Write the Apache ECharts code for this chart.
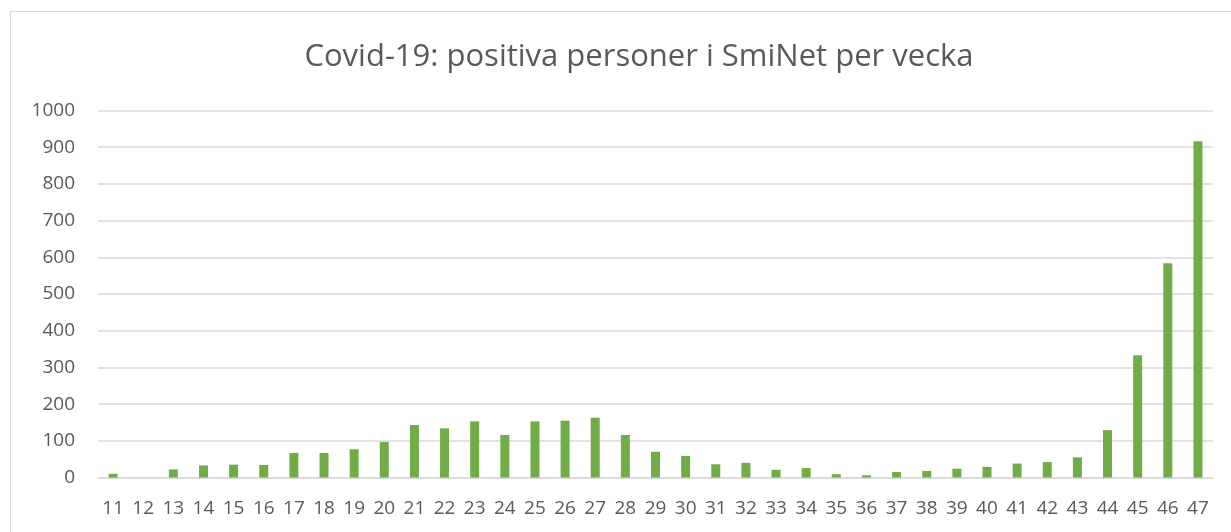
<!DOCTYPE html>
<html>
<head>
<meta charset="utf-8">
<script src="https://cdn.jsdelivr.net/npm/echarts@6/dist/echarts.min.js"></script>
<style>
html, body { margin: 0; padding: 0; background: #fff; overflow: hidden; width: 1231px; height: 532px; }
#box { position: absolute; left: 10px; top: 11px; width: 1258px; height: 540px; border: 1px solid #d9d9d9; box-sizing: border-box; }
#chart { width: 100%; height: 100%; }
</style>
</head>
<body>
<div id="box"><div id="chart"></div></div>
<script>
//veckor och antal positiva
var veckor = ['11','12','13','14','15','16','17','18','19','20','21','22','23','24','25','26','27','28','29',
    '30','31','32','33','34','35','36','37','38','39','40','41','42','43','44','45','46','47'];
var positiva = [10, 0, 22, 33, 35, 34, 67, 67, 77, 97, 143, 134, 153, 116, 153, 155, 163, 116, 70,
    59, 36, 40, 21, 26, 9, 6, 15, 18, 24, 29, 38, 42, 55, 129, 333, 584, 916];
var titel = 'Covid-19: positiva personer i SmiNet per vecka';

var chart = echarts.init(document.getElementById("chart"));
option = {
    animation: false,
    title: {
        text: titel,
        left: 'center',
        top: 25,
        textStyle: {
            color: '#595959',
            fontSize: 31,
            fontWeight: 'normal',
            fontFamily: 'Open Sans'
        }
    },
    grid: {
        left: 87,
        top: 98.5,
        width: 1115,
        height: 367
    },
    xAxis: {
        type: 'category',
        data: veckor,
        axisLine: { lineStyle: { color: '#d9d9d9', width: 1.5 } },
        axisTick: { show: false },
        axisLabel: { color: '#595959', fontSize: 19, fontFamily: 'Open Sans', margin: 22, interval: 0 }
    },
    yAxis: {
        type: 'value',
        min: 0,
        max: 1000,
        interval: 100,
        axisLine: { show: false },
        axisTick: { show: false },
        axisLabel: {
            color: '#595959', fontSize: 19, fontFamily: 'Open Sans', margin: 23,
            formatter: function (v) { return String(v); }
        },
        splitLine: { lineStyle: { color: '#d9d9d9', width: 1.5 } }
    },
    series: [
        {
            name: 'positiva',
            type: 'bar',
            data: positiva,
            barWidth: 9,
            itemStyle: { color: '#70ad47' }
        }
    ]
};
chart.setOption(option);
</script>
</body>
</html>
